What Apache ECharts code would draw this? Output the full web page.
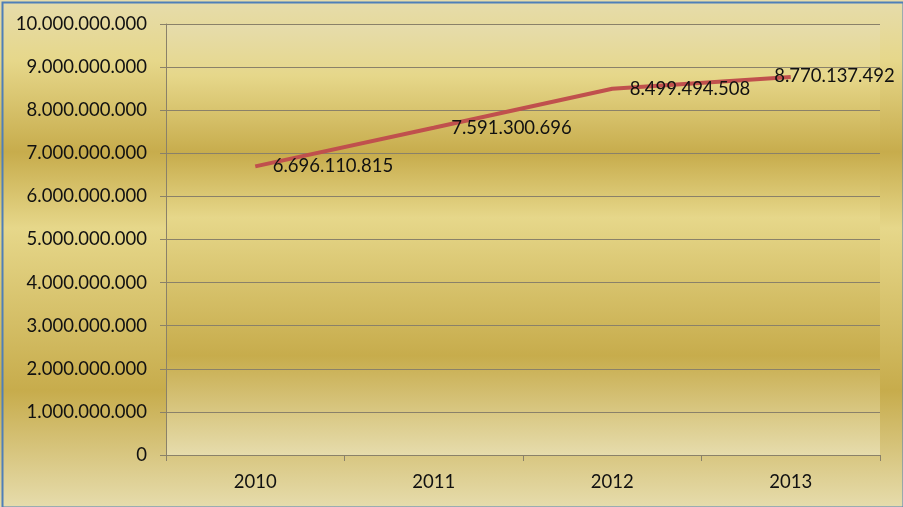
<!DOCTYPE html>
<html>
<head>
<meta charset="utf-8">
<script src="https://cdn.jsdelivr.net/npm/echarts@6/dist/echarts.min.js"></script>
<style>
html,body{margin:0;padding:0;}
#chart{width:903px;height:507px;background:linear-gradient(to bottom,#E6DCAC 0%,#E6D78A 12%,#C7AC4C 30%,#E6D78A 45%,#C7AC4C 77%,#E6DCAC 100%);}
</style>
</head>
<body>
<div id="chart"></div>
<script>
const categories = ['2010', '2011', '2012', '2013'];
const values = [6696110815, 7591300696, 8499494508, 8770137492];
const yTicks = [0, 1000000000, 2000000000, 3000000000, 4000000000, 5000000000, 6000000000, 7000000000, 8000000000, 9000000000, 10000000000];

function fmt(v) {
  return String(Math.round(v)).replace(/\B(?=(\d{3})+(?!\d))/g, '.');
}

const FONT = 'Lato';
const FS = 18.5;
const GRID_COLOR = '#8A8169';
const gold = {
  type: 'linear', x: 0, y: 0, x2: 0, y2: 1,
  colorStops: [
    {offset: 0, color: '#E6DCAC'},
    {offset: 0.12, color: '#E6D78A'},
    {offset: 0.30, color: '#C7AC4C'},
    {offset: 0.45, color: '#E6D78A'},
    {offset: 0.77, color: '#C7AC4C'},
    {offset: 1, color: '#E6DCAC'}
  ]
};

const seriesData = values.map((v, i) => {
  const d = {value: v};
  if (i === values.length - 1) {
    d.label = {offset: [-34, -1]};
  }
  return d;
});

const chart = echarts.init(document.getElementById('chart'), null, {renderer: 'canvas'});
chart.setOption({
  backgroundColor: 'transparent',
  animation: false,
  textStyle: {fontFamily: FONT},
  grid: {
    left: 166, right: 23, top: 24, bottom: 52,
    show: true, backgroundColor: gold, borderWidth: 0
  },
  graphic: [{
    type: 'rect', left: 0, top: 0, z: 100,
    shape: {x: 1, y: 1, width: 901, height: 505},
    style: {fill: 'none', stroke: '#4F7FB8', lineWidth: 2}
  }],
  xAxis: {
    type: 'category',
    data: categories,
    boundaryGap: true,
    axisLine: {show: true, lineStyle: {color: GRID_COLOR, width: 1}},
    axisTick: {show: true, length: 6, alignWithLabel: false, lineStyle: {color: GRID_COLOR}},
    axisLabel: {color: '#111', fontFamily: FONT, fontSize: FS, margin: 18},
    splitLine: {show: false}
  },
  yAxis: {
    type: 'value',
    min: yTicks[0], max: yTicks[yTicks.length - 1], interval: yTicks[1] - yTicks[0],
    axisLine: {show: true, lineStyle: {color: GRID_COLOR, width: 1}},
    axisTick: {show: true, length: 6, lineStyle: {color: GRID_COLOR}},
    axisLabel: {color: '#111', fontFamily: FONT, fontSize: FS, margin: 19, formatter: fmt},
    splitLine: {show: true, lineStyle: {color: GRID_COLOR, width: 1}}
  },
  series: [{
    type: 'line',
    data: seriesData,
    symbol: 'circle',
    symbolSize: 1,
    showSymbol: true,
    itemStyle: {color: 'rgba(0,0,0,0)'},
    lineStyle: {color: '#C0504D', width: 4},
    label: {
      show: true, position: 'right', distance: 17,
      color: '#111', fontFamily: FONT, fontSize: FS,
      formatter: p => fmt(p.value)
    },
    emphasis: {disabled: true}
  }]
});
</script>
</body>
</html>
